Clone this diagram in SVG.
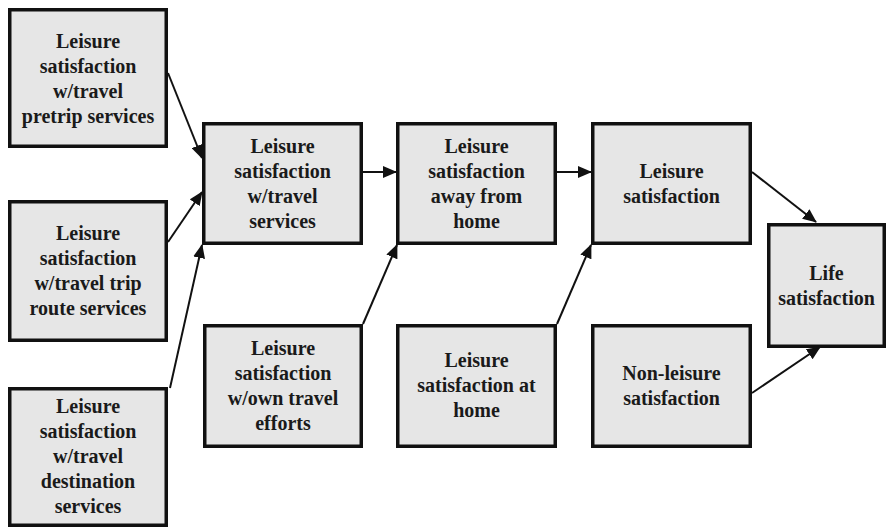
<svg xmlns="http://www.w3.org/2000/svg" width="889" height="529" viewBox="0 0 889 529">
<defs>
<style>
.box{fill:#e6e6e6;stroke:#111;stroke-width:3.5}
.t{font-family:"Liberation Serif","Times New Roman",serif;font-weight:bold;font-size:20px;fill:#1a1a1a;text-anchor:middle}
.c{stroke:#111;stroke-width:2;fill:none;marker-end:url(#ah)}
</style>
<marker id="ah" markerUnits="userSpaceOnUse" markerWidth="14" markerHeight="12" refX="13" refY="6" orient="auto">
<path d="M0,0 L14,6 L0,12 z" fill="#111"/>
</marker>
</defs>
<rect width="889" height="529" fill="#fff"/>
<g id="connectors">
<line class="c" x1="168" y1="73" x2="202" y2="158"/>
<line class="c" x1="168" y1="242" x2="202" y2="192"/>
<line class="c" x1="170" y1="388" x2="202" y2="245"/>
<line class="c" x1="363" y1="172" x2="396" y2="172"/>
<line class="c" x1="557" y1="172" x2="591" y2="172"/>
<line class="c" x1="363" y1="324" x2="397" y2="245"/>
<line class="c" x1="557" y1="324" x2="591" y2="245"/>
<line class="c" x1="752" y1="172" x2="816" y2="222"/>
<line class="c" x1="752" y1="393" x2="820" y2="347"/>
</g>
<g id="pretrip">
<rect class="box" x="9.75" y="9.75" width="156.5" height="136.5"/>
<text class="t" x="88" y="48">Leisure</text>
<text class="t" x="88" y="73">satisfaction</text>
<text class="t" x="88" y="98">w/travel</text>
<text class="t" x="88" y="123">pretrip services</text>
</g>
<g id="route">
<rect class="box" x="9.75" y="201.75" width="156.5" height="138.5"/>
<text class="t" x="88" y="240">Leisure</text>
<text class="t" x="88" y="265">satisfaction</text>
<text class="t" x="88" y="290">w/travel trip</text>
<text class="t" x="88" y="315">route services</text>
</g>
<g id="destination">
<rect class="box" x="9.75" y="388.75" width="156.5" height="136.5"/>
<text class="t" x="88" y="413">Leisure</text>
<text class="t" x="88" y="438">satisfaction</text>
<text class="t" x="88" y="463">w/travel</text>
<text class="t" x="88" y="488">destination</text>
<text class="t" x="88" y="513">services</text>
</g>
<g id="travelservices">
<rect class="box" x="203.75" y="123.75" width="157.5" height="119.5"/>
<text class="t" x="282.5" y="153">Leisure</text>
<text class="t" x="282.5" y="178">satisfaction</text>
<text class="t" x="282.5" y="203">w/travel</text>
<text class="t" x="282.5" y="228">services</text>
</g>
<g id="awayfromhome">
<rect class="box" x="397.75" y="123.75" width="157.5" height="119.5"/>
<text class="t" x="476.5" y="153">Leisure</text>
<text class="t" x="476.5" y="178">satisfaction</text>
<text class="t" x="476.5" y="203">away from</text>
<text class="t" x="476.5" y="228">home</text>
</g>
<g id="leisure">
<rect class="box" x="592.75" y="123.75" width="157.5" height="119.5"/>
<text class="t" x="671.5" y="178">Leisure</text>
<text class="t" x="671.5" y="203">satisfaction</text>
</g>
<g id="life">
<rect class="box" x="768.75" y="224.75" width="115.5" height="121.5"/>
<text class="t" x="826.5" y="280">Life</text>
<text class="t" x="826.5" y="305">satisfaction</text>
</g>
<g id="owntravel">
<rect class="box" x="204.75" y="325.75" width="156.5" height="120.5"/>
<text class="t" x="283" y="355">Leisure</text>
<text class="t" x="283" y="380">satisfaction</text>
<text class="t" x="283" y="405">w/own travel</text>
<text class="t" x="283" y="430">efforts</text>
</g>
<g id="athome">
<rect class="box" x="397.75" y="325.75" width="157.5" height="120.5"/>
<text class="t" x="476.5" y="367">Leisure</text>
<text class="t" x="476.5" y="392">satisfaction at</text>
<text class="t" x="476.5" y="417">home</text>
</g>
<g id="nonleisure">
<rect class="box" x="592.75" y="325.75" width="157.5" height="120.5"/>
<text class="t" x="671.5" y="380">Non-leisure</text>
<text class="t" x="671.5" y="405">satisfaction</text>
</g>
</svg>
